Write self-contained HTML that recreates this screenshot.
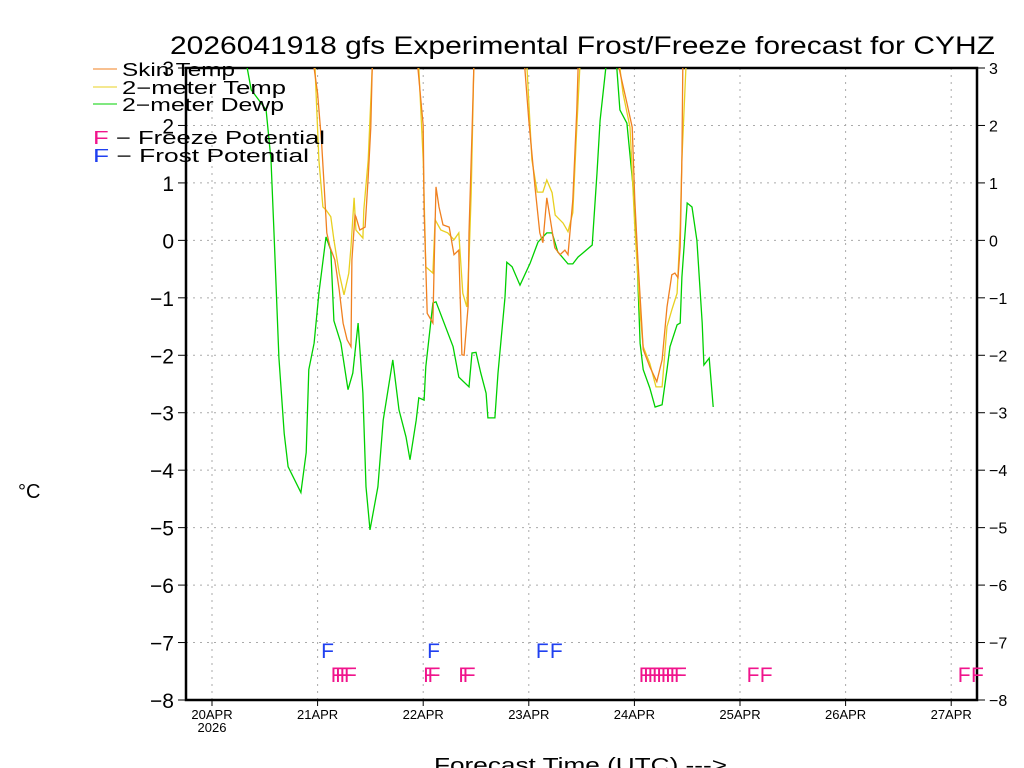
<!DOCTYPE html>
<html><head><meta charset="utf-8"><style>
body{margin:0;background:#fff;}
svg{display:block;font-family:"Liberation Sans",sans-serif;}
</style></head><body>
<svg id="chart" width="1024" height="768" viewBox="0 0 1024 768" xmlns="http://www.w3.org/2000/svg">
<defs><clipPath id="plotclip"><rect x="186" y="68" width="791" height="632"/></clipPath></defs>
<rect width="1024" height="768" fill="#fff"/>
<text x="170" y="54" font-size="25" textLength="825" lengthAdjust="spacingAndGlyphs" fill="#000">2026041918 gfs Experimental Frost/Freeze forecast for CYHZ</text>
<g id="grid"></g>
<g id="axes"></g>
<g id="series" clip-path="url(#plotclip)"></g>
<g id="markers"></g>
<text x="18" y="498" font-size="20" fill="#000">°C</text>
<text x="434" y="772" font-size="20" textLength="293" lengthAdjust="spacingAndGlyphs" fill="#000">Forecast Time (UTC) ---&gt;</text>
<g font-size="18" fill="#000">
<line x1="93" y1="69" x2="117" y2="69" stroke="#f08020"/>
<text x="122" y="76" textLength="113" lengthAdjust="spacingAndGlyphs">Skin Temp</text>
<line x1="93" y1="87" x2="117" y2="87" stroke="#e8d020"/>
<text x="122" y="94" textLength="164" lengthAdjust="spacingAndGlyphs">2−meter Temp</text>
<line x1="93" y1="104" x2="117" y2="104" stroke="#00d000"/>
<text x="122" y="111" textLength="162" lengthAdjust="spacingAndGlyphs">2−meter Dewp</text>
<text x="93" y="144" textLength="232" lengthAdjust="spacingAndGlyphs"><tspan fill="#f0148c">F</tspan> − Freeze Potential</text>
<text x="93" y="162" textLength="216" lengthAdjust="spacingAndGlyphs"><tspan fill="#2040f0">F</tspan> − Frost Potential</text>
</g>
</svg>
<script>
const yTicks=[-8,-7,-6,-5,-4,-3,-2,-1,0,1,2,3];
const dayLabels=["20APR","21APR","22APR","23APR","24APR","25APR","26APR","27APR"];
const dewHours=[7.5,8,8.9,12.3,13.4,14.1,15.2,16.4,17.3,20.2,21.4,22,23.2,24.3,25.9,27,27.7,29.3,30.9,32,33.2,34.3,35,35.9,37.7,38.9,41.1,42.5,44.1,45,46.4,47,48.2,48.6,50.2,50.9,54.8,56.1,58.4,59.1,60,61.1,62.3,62.7,64.3,65,66.6,67,68.2,70,72.3,74.1,76.1,77.3,78.6,80.9,82,83.2,84.3,86.4,87.5,88.2,89.5,90.5,91.5,92,92.7,94.3,95.7,96.6,97.3,98,99.5,100.7,102.3,103.4,104.1,105.7,106.4,106.8,108,109.1,110.2,111.4,111.8,113,113.9];
const dewVals=[3.6,3.0,2.62,2.27,1.40,0.13,-2.04,-3.36,-3.94,-4.39,-3.69,-2.25,-1.79,-0.92,0.06,-0.17,-1.40,-1.79,-2.60,-2.31,-1.44,-2.66,-4.29,-5.04,-4.29,-3.13,-2.08,-2.95,-3.42,-3.82,-3.13,-2.74,-2.78,-2.20,-1.09,-1.07,-1.85,-2.38,-2.55,-1.96,-1.95,-2.31,-2.66,-3.09,-3.09,-2.31,-0.99,-0.38,-0.46,-0.78,-0.40,-0.03,0.13,0.13,-0.20,-0.41,-0.41,-0.29,-0.22,-0.08,1.17,2.09,3.0,3.6,3.6,3.0,2.27,2.04,0.93,-0.29,-1.79,-2.25,-2.57,-2.90,-2.86,-2.25,-1.85,-1.47,-1.44,-0.64,0.65,0.58,0.0,-1.44,-2.17,-2.05,-2.90];
const skinHours=[22,23.2,24,24.9,25.5,26.1,26.8,27.9,28.9,29.8,30.7,31.6,31.8,32.5,32.7,33.6,34.8,35.5,36.1,36.4,37.5, 45.8,46.8,48,48.2,48.9,50.2,50.5,50.9,51.6,52.5,53.9,55,56.1,56.8,57.3,58.2,58.4,59.1,59.5,60.5, 70,71.1,72,73.4,74.5,75.2,76.1,76.8,77.9,79.1,80.2,80.9,82,82.9,83.2,84.5, 91.5,92.5,94.3,95.5,96.1,96.8,97.7,98,99.5,101.1,102.3,103.4,104.5,105.2,105.9,106.4,106.8,107,108];
const skinVals=[4,3,2.56,1.70,0.93,0.13,-0.11,-0.34,-0.86,-1.44,-1.73,-1.85,-0.34,0.44,0.41,0.18,0.23,1.10,1.97,3,4, 4,3,2.0,0.53,-1.27,-1.44,-0.38,0.93,0.58,0.27,0.23,-0.25,-0.17,-1.99,-2.00,-1.15,0.13,1.87,3,4, 4,3,2.09,0.93,0.13,-0.04,0.74,0.41,-0.13,-0.25,-0.17,-0.25,0.70,2.27,3,4, 4,3,2.39,1.97,0.70,-0.34,-1.50,-1.90,-2.20,-2.46,-2.08,-1.16,-0.60,-0.57,-0.65,-0.11,1.40,3,4];
const t2Hours=[22,23.4,24.3,25.2,25.9,27,27.7,28.9,30,31.1,31.6,32.3,32.7,34.3,34.5,35.5,36.4,37.5, 46,47,48,48.6,50.2,50.7,52,53.6,55,56.1,57,57.9,58.4,58.9,59.5,60.5, 70.5,71.6,72.7,73.9,75.2,76.1,77.3,78,79.8,80.9,82,82.9,83.6,84.5, 91.7,92.7,93.4,95,96.1,97.3,98,99.5,100.9,102.3,103.4,104.5,105.7,106.4,106.8,107.7,108.7];
const t2Vals=[4,3,1.40,0.58,0.53,0.41,0.01,-0.57,-0.95,-0.57,-0.11,0.74,0.18,0.04,0.53,1.40,3,4, 4,3,1.40,-0.46,-0.57,0.36,0.18,0.13,0.01,0.13,-0.92,-1.16,-0.34,0.83,3,4, 4,3,1.40,0.84,0.84,1.05,0.83,0.44,0.30,0.15,0.48,1.97,3,4, 4,3,2.56,1.97,0.23,-1.27,-1.85,-2.14,-2.55,-2.55,-1.50,-1.21,-0.92,0.23,1.40,3,4];
const freezeHours=[27,28,29,30,48,49,56,57,97,98,99,100,101,102,103,104,105,121.5,124.5,169.5,172.5];
const frostHours=[24.8,48.9,73.6,76.8];
const skinBreaks=[37.5,60.5,84.5];
const t2Breaks=[37.5,60.5,84.5];

const NS="http://www.w3.org/2000/svg";
const X0=186,X1=977,Y0=68,Y1=700,YMIN=-8,YMAX=3;
const xDay0=212,pxPerHour=4.4;
function xs(h){return xDay0+h*pxPerHour;}
function ys(v){return Y1-(v-YMIN)/(YMAX-YMIN)*(Y1-Y0);}
function mk(tag,attrs,parent){const e=document.createElementNS(NS,tag);for(const k in attrs)e.setAttribute(k,attrs[k]);parent.appendChild(e);return e;}
const grid=document.getElementById('grid'),axes=document.getElementById('axes'),series=document.getElementById('series'),markers=document.getElementById('markers');

yTicks.forEach((t,i)=>{
  const y=ys(t);
  if(t>YMIN&&t<YMAX){
    const g=mk('line',{x1:X0,x2:X1,y1:y,y2:y,stroke:'#aaa','stroke-dasharray':'2,5'},grid);
    
    
  }
  const tl=mk('line',{x1:X0-8,x2:X0,y1:y,y2:y,stroke:'#000'},axes);
  
  
  const tr=mk('line',{x1:X1,x2:X1+8,y1:y,y2:y,stroke:'#000'},axes);
  
  
  const lab=t<0?'\u2212'+Math.abs(t):String(t);
  const l=mk('text',{x:X0-12,y:y+8,'font-size':21,'text-anchor':'end',fill:'#000'},axes);l.textContent=lab;
  
  
  const r=mk('text',{x:X1+12,y:y+6,'font-size':16,fill:'#000'},axes);r.textContent=lab;
  
  
});
dayLabels.forEach((d,i)=>{
  const x=xs(i*24);
  const g=mk('line',{x1:x,x2:x,y1:Y0,y2:Y1,stroke:'#aaa','stroke-dasharray':'2,5'},grid);
  
  
  const t=mk('line',{x1:x,x2:x,y1:Y1,y2:Y1+6,stroke:'#000'},axes);
  
  
  const l=mk('text',{x:x,y:Y1+19,'font-size':13,'text-anchor':'middle',fill:'#000'},axes);l.textContent=d;
  
  
});
const yr=mk('text',{x:xs(0),y:Y1+32,'font-size':13,'text-anchor':'middle',fill:'#000'},axes);yr.textContent='2026';


const frame=mk('path',{d:`M${X0},${Y1}V${Y0}H${X1}V${Y1}Z`,fill:'none',stroke:'#000','stroke-width':2.5},axes);


const rax=mk('line',{x1:X1,x2:X1,y1:Y0,y2:Y1,stroke:'#000','stroke-width':1.5},axes);



function drawSeries(hours,vals,breaks,color,name){
  let segs=[[]];
  hours.forEach((h,i)=>{
    segs[segs.length-1].push(xs(h).toFixed(1)+','+ys(vals[i]).toFixed(1));
    if(breaks.includes(h))segs.push([]);
  });
  segs.filter(s=>s.length>1).forEach(s=>{
    const p=mk('polyline',{points:s.join(' '),fill:'none',stroke:color,'stroke-width':1.3},series);
    
    
  });
}
drawSeries(dewHours,dewVals,[],'#00d000','dewpoint-line');
drawSeries(t2Hours,t2Vals,t2Breaks,'#e8d020','two-meter-temp-line');
drawSeries(skinHours,skinVals,skinBreaks,'#f08020','skin-temp-line');

frostHours.forEach(h=>{
  const t=mk('text',{x:xs(h),y:658,'font-size':21,fill:'#2040f0'},markers);t.textContent='F';
  
  
});
freezeHours.forEach(h=>{
  const t=mk('text',{x:xs(h),y:682,'font-size':21,fill:'#f0148c'},markers);t.textContent='F';
  
  
});
</script>
</body></html>
